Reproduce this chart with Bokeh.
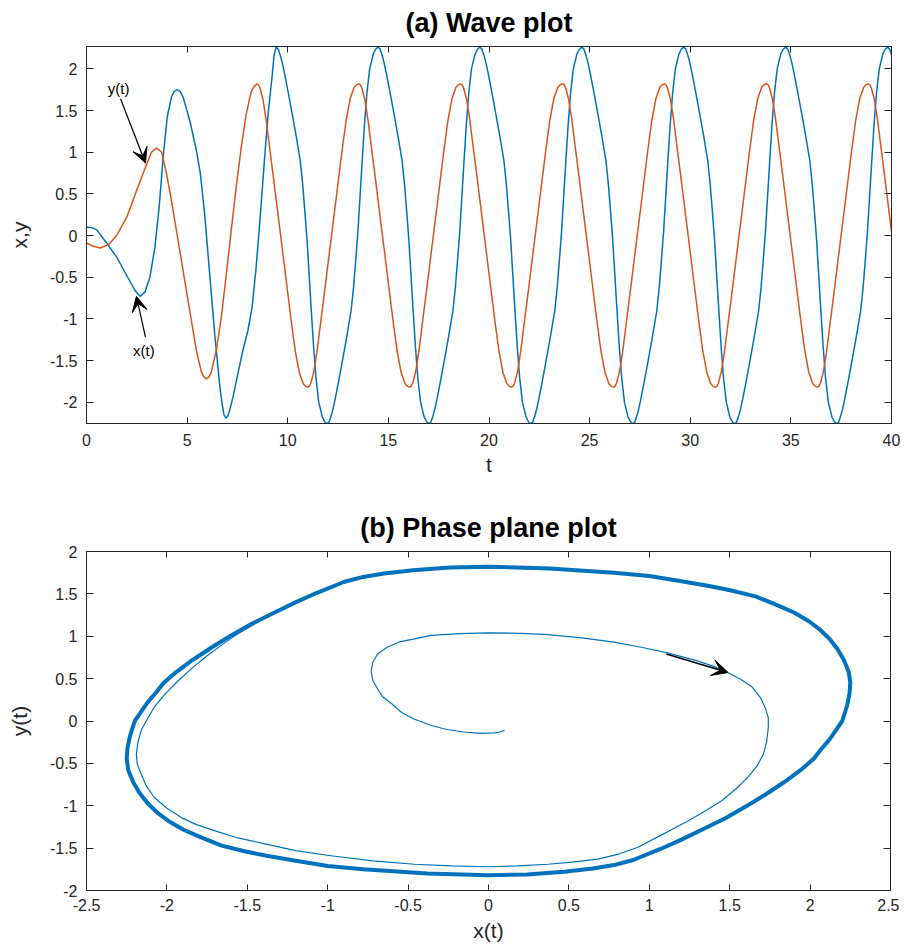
from bokeh.plotting import figure
from bokeh.models import (Range1d, FixedTicker, LinearAxis, Arrow, VeeHead,
                          Label, CustomJSTickFormatter)
from bokeh.layouts import column
from bokeh.embed import file_html
from bokeh.resources import INLINE

# ---------------- data ----------------
# (a) wave plot: x(t) (blue)
t_x = [0.00, 0.25, 0.50, 1.09, 1.50, 2.00, 2.41, 2.66, 2.90, 3.15, 3.40, 3.61, 3.81, 4.01, 4.22, 4.36, 4.50,
       4.65, 4.80, 5.13, 5.46, 5.66, 5.87, 6.12, 6.37, 6.58, 6.66, 6.75, 6.83, 6.92, 7.01, 7.10, 7.28, 7.52,
       7.77, 8.02, 8.23, 8.43, 8.63, 8.84, 9.04, 9.22, 9.32,
       9.42, 9.52, 9.62, 9.72, 9.82, 10.02, 10.22, 10.42, 10.62, 10.74, 10.86, 10.96, 11.06, 11.16, 11.28,
       11.40, 11.54, 11.72, 11.84, 11.95, 12.05, 12.15, 12.25, 12.35, 12.55, 12.75, 12.95, 13.15, 13.27,
       13.39, 13.49, 13.59, 13.69, 13.81, 13.93, 14.07, 14.25, 14.37,
       14.48, 14.58, 14.68, 14.78, 14.88, 15.08, 15.28, 15.48, 15.68, 15.80, 15.92, 16.02, 16.12, 16.22, 16.34,
       16.46, 16.60, 16.78, 16.90, 17.01, 17.11, 17.21, 17.31, 17.41, 17.61, 17.81, 18.01, 18.21, 18.33,
       18.45, 18.55, 18.65, 18.75, 18.87, 18.99, 19.13, 19.31, 19.43,
       19.54, 19.64, 19.74, 19.84, 19.94, 20.14, 20.34, 20.54, 20.74, 20.86, 20.98, 21.08, 21.18, 21.28, 21.40,
       21.52, 21.66, 21.84, 21.96, 22.07, 22.17, 22.27, 22.37, 22.47, 22.67, 22.87, 23.07, 23.27, 23.39,
       23.51, 23.61, 23.71, 23.81, 23.93, 24.05, 24.19, 24.37, 24.49,
       24.61, 24.71, 24.81, 24.91, 25.01, 25.21, 25.41, 25.61, 25.81, 25.93, 26.05, 26.15, 26.25, 26.35, 26.47,
       26.59, 26.73, 26.91, 27.03, 27.14, 27.24, 27.34, 27.44, 27.54, 27.74, 27.94, 28.14, 28.34, 28.46,
       28.58, 28.68, 28.78, 28.88, 29.00, 29.12, 29.26, 29.44, 29.56,
       29.67, 29.77, 29.87, 29.97, 30.07, 30.27, 30.47, 30.67, 30.87, 30.99, 31.11, 31.21, 31.31, 31.41, 31.53,
       31.65, 31.79, 31.97, 32.09, 32.20, 32.30, 32.40, 32.50, 32.60, 32.80, 33.00, 33.20, 33.40, 33.52,
       33.64, 33.74, 33.84, 33.94, 34.06, 34.18, 34.32, 34.50, 34.62,
       34.74, 34.84, 34.94, 35.04, 35.14, 35.34, 35.54, 35.74, 35.94, 36.06, 36.18, 36.28, 36.38, 36.48, 36.60,
       36.72, 36.86, 37.04, 37.16, 37.27, 37.37, 37.47, 37.57, 37.67, 37.87, 38.07, 38.27, 38.47, 38.59,
       38.71, 38.81, 38.91, 39.01, 39.13, 39.25, 39.39, 39.57, 39.69,
       39.80, 39.90, 40.00]
x_vals = [0.10, 0.095, 0.07, -0.12, -0.26, -0.48, -0.66, -0.73, -0.68, -0.50, -0.14, 0.34, 0.94, 1.42, 1.66, 1.73, 1.75,
          1.73, 1.66, 1.38, 1.02, 0.74, 0.26, -0.46, -1.18, -1.70, -1.88, -2.04, -2.15, -2.19, -2.17, -2.11, -1.94, -1.66,
          -1.38, -1.14, -0.86, -0.38, 0.22, 0.90, 1.50, 1.90, 2.16,
          2.26, 2.24, 2.17, 2.08, 1.97, 1.72, 1.46, 1.19, 0.90, 0.62, 0.26, -0.06, -0.46, -0.86, -1.32,
          -1.70, -2.00, -2.18, -2.235, -2.26, -2.24, -2.17, -2.08, -1.97, -1.72, -1.46, -1.19, -0.90, -0.62,
          -0.26, 0.06, 0.46, 0.86, 1.32, 1.70, 2.00, 2.18, 2.235,
          2.26, 2.24, 2.17, 2.08, 1.97, 1.72, 1.46, 1.19, 0.90, 0.62, 0.26, -0.06, -0.46, -0.86, -1.32,
          -1.70, -2.00, -2.18, -2.235, -2.26, -2.24, -2.17, -2.08, -1.97, -1.72, -1.46, -1.19, -0.90, -0.62,
          -0.26, 0.06, 0.46, 0.86, 1.32, 1.70, 2.00, 2.18, 2.235,
          2.26, 2.24, 2.17, 2.08, 1.97, 1.72, 1.46, 1.19, 0.90, 0.62, 0.26, -0.06, -0.46, -0.86, -1.32,
          -1.70, -2.00, -2.18, -2.235, -2.26, -2.24, -2.17, -2.08, -1.97, -1.72, -1.46, -1.19, -0.90, -0.62,
          -0.26, 0.06, 0.46, 0.86, 1.32, 1.70, 2.00, 2.18, 2.235,
          2.26, 2.24, 2.17, 2.08, 1.97, 1.72, 1.46, 1.19, 0.90, 0.62, 0.26, -0.06, -0.46, -0.86, -1.32,
          -1.70, -2.00, -2.18, -2.235, -2.26, -2.24, -2.17, -2.08, -1.97, -1.72, -1.46, -1.19, -0.90, -0.62,
          -0.26, 0.06, 0.46, 0.86, 1.32, 1.70, 2.00, 2.18, 2.235,
          2.26, 2.24, 2.17, 2.08, 1.97, 1.72, 1.46, 1.19, 0.90, 0.62, 0.26, -0.06, -0.46, -0.86, -1.32,
          -1.70, -2.00, -2.18, -2.235, -2.26, -2.24, -2.17, -2.08, -1.97, -1.72, -1.46, -1.19, -0.90, -0.62,
          -0.26, 0.06, 0.46, 0.86, 1.32, 1.70, 2.00, 2.18, 2.235,
          2.26, 2.24, 2.17, 2.08, 1.97, 1.72, 1.46, 1.19, 0.90, 0.62, 0.26, -0.06, -0.46, -0.86, -1.32,
          -1.70, -2.00, -2.18, -2.235, -2.26, -2.24, -2.17, -2.08, -1.97, -1.72, -1.46, -1.19, -0.90, -0.62,
          -0.26, 0.06, 0.46, 0.86, 1.32, 1.70, 2.00, 2.18, 2.235,
          2.26, 2.24, 2.17]

# (a) wave plot: y(t) (orange)
t_y = [0.00, 0.35, 0.68, 1.09, 1.50, 2.00, 2.49, 2.90, 3.23, 3.48, 3.73, 3.98, 4.22, 4.55, 4.88, 5.21,
       5.46, 5.71, 5.84, 5.96, 6.08, 6.20, 6.45, 6.70, 6.95, 7.19, 7.44, 7.69, 7.94, 8.18, 8.33,
       8.47, 8.54, 8.62, 8.77, 8.92, 9.07, 9.27, 9.47, 9.62, 9.77, 9.97, 10.17, 10.37, 10.57, 10.77, 10.89,
       11.00, 11.07, 11.15, 11.30, 11.45, 11.60, 11.80, 12.00, 12.15, 12.30, 12.50, 12.70, 12.90, 13.10, 13.30, 13.42,
       13.53, 13.60, 13.68, 13.83, 13.98, 14.13, 14.33, 14.53, 14.68, 14.83, 15.03, 15.23, 15.43, 15.63, 15.83, 15.95,
       16.06, 16.13, 16.21, 16.36, 16.51, 16.66, 16.86, 17.06, 17.21, 17.36, 17.56, 17.76, 17.96, 18.16, 18.36, 18.48,
       18.59, 18.66, 18.74, 18.89, 19.04, 19.19, 19.39, 19.59, 19.74, 19.89, 20.09, 20.29, 20.49, 20.69, 20.89, 21.01,
       21.12, 21.19, 21.27, 21.42, 21.57, 21.72, 21.92, 22.12, 22.27, 22.42, 22.62, 22.82, 23.02, 23.22, 23.42, 23.54,
       23.66, 23.73, 23.81, 23.96, 24.11, 24.26, 24.46, 24.66, 24.81, 24.96, 25.16, 25.36, 25.56, 25.76, 25.96, 26.08,
       26.19, 26.26, 26.34, 26.49, 26.64, 26.79, 26.99, 27.19, 27.34, 27.49, 27.69, 27.89, 28.09, 28.29, 28.49, 28.61,
       28.72, 28.79, 28.87, 29.02, 29.17, 29.32, 29.52, 29.72, 29.87, 30.02, 30.22, 30.42, 30.62, 30.82, 31.02, 31.14,
       31.25, 31.32, 31.40, 31.55, 31.70, 31.85, 32.05, 32.25, 32.40, 32.55, 32.75, 32.95, 33.15, 33.35, 33.55, 33.67,
       33.79, 33.86, 33.94, 34.09, 34.24, 34.39, 34.59, 34.79, 34.94, 35.09, 35.29, 35.49, 35.69, 35.89, 36.09, 36.21,
       36.32, 36.39, 36.47, 36.62, 36.77, 36.92, 37.12, 37.32, 37.47, 37.62, 37.82, 38.02, 38.22, 38.42, 38.62, 38.74,
       38.85, 38.92, 39.00, 39.15, 39.30, 39.45, 39.65, 39.85, 40.00]
y_vals = [-0.09, -0.13, -0.15, -0.11, 0.00, 0.22, 0.54, 0.80, 1.00, 1.05, 1.00, 0.74, 0.42, -0.06, -0.54, -1.02,
          -1.38, -1.64, -1.70, -1.72, -1.70, -1.64, -1.38, -0.98, -0.46, 0.06, 0.58, 1.06, 1.46, 1.72, 1.79,
          1.82, 1.81, 1.77, 1.63, 1.40, 1.11, 0.73, 0.34, 0.05, -0.24, -0.63, -1.02, -1.38, -1.64, -1.78, -1.81,
          -1.82, -1.81, -1.77, -1.63, -1.40, -1.11, -0.73, -0.34, -0.05, 0.24, 0.63, 1.02, 1.38, 1.64, 1.78, 1.81,
          1.82, 1.81, 1.77, 1.63, 1.40, 1.11, 0.73, 0.34, 0.05, -0.24, -0.63, -1.02, -1.38, -1.64, -1.78, -1.81,
          -1.82, -1.81, -1.77, -1.63, -1.40, -1.11, -0.73, -0.34, -0.05, 0.24, 0.63, 1.02, 1.38, 1.64, 1.78, 1.81,
          1.82, 1.81, 1.77, 1.63, 1.40, 1.11, 0.73, 0.34, 0.05, -0.24, -0.63, -1.02, -1.38, -1.64, -1.78, -1.81,
          -1.82, -1.81, -1.77, -1.63, -1.40, -1.11, -0.73, -0.34, -0.05, 0.24, 0.63, 1.02, 1.38, 1.64, 1.78, 1.81,
          1.82, 1.81, 1.77, 1.63, 1.40, 1.11, 0.73, 0.34, 0.05, -0.24, -0.63, -1.02, -1.38, -1.64, -1.78, -1.81,
          -1.82, -1.81, -1.77, -1.63, -1.40, -1.11, -0.73, -0.34, -0.05, 0.24, 0.63, 1.02, 1.38, 1.64, 1.78, 1.81,
          1.82, 1.81, 1.77, 1.63, 1.40, 1.11, 0.73, 0.34, 0.05, -0.24, -0.63, -1.02, -1.38, -1.64, -1.78, -1.81,
          -1.82, -1.81, -1.77, -1.63, -1.40, -1.11, -0.73, -0.34, -0.05, 0.24, 0.63, 1.02, 1.38, 1.64, 1.78, 1.81,
          1.82, 1.81, 1.77, 1.63, 1.40, 1.11, 0.73, 0.34, 0.05, -0.24, -0.63, -1.02, -1.38, -1.64, -1.78, -1.81,
          -1.82, -1.81, -1.77, -1.63, -1.40, -1.11, -0.73, -0.34, -0.05, 0.24, 0.63, 1.02, 1.38, 1.64, 1.78, 1.81,
          1.82, 1.81, 1.77, 1.63, 1.40, 1.11, 0.73, 0.34, 0.05]

# (b) phase plane: transient trajectory (thin line)
trans_x = [0.10, 0.07, 0.04, -0.05, -0.15, -0.26, -0.36, -0.46, -0.54, -0.60, -0.66, -0.69, -0.72, -0.73, -0.72,
           -0.69, -0.63, -0.56, -0.46, -0.36, -0.18, 0.00, 0.20, 0.37, 0.58, 0.78, 0.95, 1.10, 1.30, 1.40, 1.49,
           1.57, 1.64, 1.69, 1.72, 1.74, 1.74, 1.73, 1.71, 1.67, 1.615, 1.54, 1.45, 1.35, 1.24, 1.14, 1.05, 0.93,
           0.81, 0.68, 0.52, 0.37, 0.18, 0.00, -0.23, -0.46, -0.72, -0.98, -1.20, -1.39, -1.56, -1.71, -1.82,
           -1.91, -2.00, -2.08, -2.13, -2.16, -2.185, -2.19, -2.18, -2.16, -2.12, -2.08, -2.01, -1.93, -1.84,
           -1.75, -1.65, -1.55, -1.44, -1.33, -1.20]
trans_y = [-0.11, -0.13, -0.14, -0.145, -0.13, -0.10, -0.05, 0.02, 0.10, 0.20, 0.29, 0.38, 0.48, 0.59, 0.69,
           0.79, 0.87, 0.93, 0.97, 1.01, 1.03, 1.04, 1.035, 1.02, 0.98, 0.93, 0.87, 0.81, 0.71, 0.645, 0.57,
           0.49, 0.40, 0.28, 0.16, 0.04, -0.08, -0.24, -0.39, -0.53, -0.66, -0.80, -0.94, -1.06, -1.18, -1.28,
           -1.37, -1.49, -1.57, -1.63, -1.665, -1.69, -1.71, -1.72, -1.71, -1.69, -1.65, -1.59, -1.53, -1.45,
           -1.38, -1.29, -1.22, -1.14, -1.03, -0.90, -0.76, -0.625, -0.50, -0.39, -0.25, -0.11, 0.03, 0.16,
           0.32, 0.475, 0.63, 0.77, 0.91, 1.04, 1.16, 1.28, 1.40]

# (b) phase plane: limit cycle (thick band)
cycle_x = [0.00, 0.38, 0.78, 1.00, 1.20, 1.38, 1.51, 1.66, 1.78, 1.90, 1.99, 2.06, 2.12, 2.17, 2.21, 2.24,
           2.25, 2.245, 2.23, 2.20, 2.16, 2.12, 2.07, 2.02, 1.94, 1.84, 1.72, 1.60, 1.47, 1.33, 1.20, 1.07,
           0.90, 0.78, 0.65, 0.47, 0.24, 0.00,
           -0.38, -0.78, -1.00, -1.20, -1.38, -1.51, -1.66, -1.78, -1.90, -1.99, -2.06, -2.12, -2.17, -2.21,
           -2.24, -2.25, -2.245, -2.23, -2.20, -2.16, -2.12, -2.07, -2.02, -1.94, -1.84, -1.72, -1.60, -1.47,
           -1.33, -1.20, -1.07, -0.90, -0.78, -0.65, -0.47, -0.24, 0.00]
cycle_y = [1.82, 1.80, 1.75, 1.71, 1.65, 1.59, 1.54, 1.47, 1.38, 1.28, 1.18, 1.08, 0.97, 0.85, 0.72, 0.58,
           0.45, 0.32, 0.18, 0.00, -0.11, -0.22, -0.33, -0.45, -0.58, -0.72, -0.87, -1.01, -1.15, -1.28, -1.40,
           -1.51, -1.64, -1.70, -1.74, -1.78, -1.81, -1.82,
           -1.80, -1.75, -1.71, -1.65, -1.59, -1.54, -1.47, -1.38, -1.28, -1.18, -1.08, -0.97, -0.85, -0.72,
           -0.58, -0.45, -0.32, -0.18, 0.00, 0.11, 0.22, 0.33, 0.45, 0.58, 0.72, 0.87, 1.01, 1.15,
           1.28, 1.40, 1.51, 1.64, 1.70, 1.74, 1.78, 1.81, 1.82]

wave_xticks = [0, 5, 10, 15, 20, 25, 30, 35, 40]
wave_yticks = [-2, -1.5, -1, -0.5, 0, 0.5, 1, 1.5, 2]
phase_xticks = [-2.5, -2, -1.5, -1, -0.5, 0, 0.5, 1, 1.5, 2, 2.5]
phase_yticks = [-2, -1.5, -1, -0.5, 0, 0.5, 1, 1.5, 2]

# ---------------- styling ----------------
BLUE = "#0072BD"
ORANGE = "#D95319"
AX = "#262626"
FONT = "Liberation Sans"
TICK_FS = "16px"
LABEL_FS = "21px"
TITLE_FS = "27px"


def style_axis(ax, ticks, tick_len, show_labels=True, tick_standoff=9):
    ax.ticker = FixedTicker(ticks=ticks)
    ax.major_tick_in = tick_len
    ax.major_tick_out = 0
    ax.minor_tick_line_color = None
    ax.axis_line_color = AX
    ax.major_tick_line_color = AX
    ax.major_label_text_font = FONT
    if show_labels:
        ax.formatter = CustomJSTickFormatter(code="return String(tick);")
        ax.major_label_text_color = AX
        ax.major_label_text_font_size = TICK_FS
        ax.major_label_standoff = tick_standoff
    else:
        ax.formatter = CustomJSTickFormatter(code="return '';")
        ax.major_label_text_color = None
        ax.major_label_text_font_size = "0px"
        ax.major_label_standoff = 0
    ax.axis_label_text_font = FONT
    ax.axis_label_text_font_size = LABEL_FS
    ax.axis_label_text_font_style = "normal"
    ax.axis_label_text_color = AX


def make_fig(width, height, xr, yr, xticks, yticks, title, xlabel, ylabel,
             bl, br, bt, bb, x_tick_standoff, xl_standoff, yl_standoff):
    p = figure(width=width, height=height, x_range=Range1d(*xr), y_range=Range1d(*yr),
               output_backend="svg", toolbar_location=None,
               min_border_left=bl, min_border_right=br, min_border_top=bt, min_border_bottom=bb)
    p.grid.visible = False
    p.outline_line_color = AX
    p.background_fill_color = "white"
    p.border_fill_color = "white"
    style_axis(p.xaxis[0], xticks, 6, tick_standoff=x_tick_standoff)
    style_axis(p.yaxis[0], yticks, 7, tick_standoff=9)
    p.xaxis[0].axis_label = xlabel
    p.yaxis[0].axis_label = ylabel
    p.xaxis[0].axis_label_standoff = xl_standoff
    p.yaxis[0].axis_label_standoff = yl_standoff
    top = LinearAxis()
    style_axis(top, xticks, 6, show_labels=False)
    p.add_layout(top, "above")
    right = LinearAxis()
    style_axis(right, yticks, 7, show_labels=False)
    p.add_layout(right, "right")
    p.title.text = title
    p.title.align = "center"
    p.title.vertical_align = "top"
    p.title.text_font = FONT
    p.title.text_font_size = TITLE_FS
    p.title.text_font_style = "bold"
    p.title.text_color = "black"
    p.title.standoff = 14
    return p


p1 = make_fig(900, 505, (0, 40), (-2.256, 2.268), wave_xticks, wave_yticks, "(a) Wave plot",
              "t", "x,y", 86, 9, 46, 82, 10, 4, 16)
p1.line(t_x, x_vals, line_color=BLUE, line_width=1.5, line_join="round")
p1.line(t_y, y_vals, line_color=ORANGE, line_width=1.5, line_join="round")

head1 = VeeHead(size=15, fill_color="black", line_color="black")
p1.add_layout(Arrow(end=head1, x_start=1.69, y_start=1.64, x_end=2.93, y_end=0.87,
                    line_color="black", line_width=1.2))
head2 = VeeHead(size=15, fill_color="black", line_color="black")
p1.add_layout(Arrow(end=head2, x_start=2.93, y_start=-1.22, x_end=2.48, y_end=-0.73,
                    line_color="black", line_width=1.2))
p1.add_layout(Label(x=1.60, y=1.76, text="y(t)", text_align="center", text_baseline="middle",
                    text_font=FONT, text_font_size="15px", text_color="black"))
p1.add_layout(Label(x=2.85, y=-1.38, text="x(t)", text_align="center", text_baseline="middle",
                    text_font=FONT, text_font_size="15px", text_color="black"))

p2 = make_fig(899, 441, (-2.5, 2.5), (-2, 2), phase_xticks, phase_yticks, "(b) Phase plane plot",
              "x(t)", "y(t)", 84, 9, 46, 56, 8, 5, 16)
p2.line(cycle_x, cycle_y, line_color=BLUE, line_width=4, line_join="round")
p2.line(trans_x, trans_y, line_color=BLUE, line_width=1.2, line_join="round")
head3 = VeeHead(size=16, fill_color="black", line_color="black")
p2.add_layout(Arrow(end=head3, x_start=1.106, y_start=0.79, x_end=1.49, y_end=0.573,
                    line_color="black", line_width=1.5))

layout = column(p1, p2)
open("out.html", "w").write(file_html(layout, INLINE))
